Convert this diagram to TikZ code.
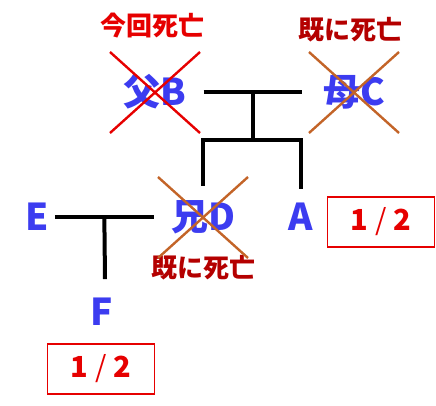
\documentclass[tikz,border=0pt]{standalone}
\usepackage{fontspec}
\newfontfamily\jp{Noto Sans CJK JP}
\usetikzlibrary{calc}

\definecolor{nameblue}{RGB}{60,60,240}
\definecolor{nowred}{RGB}{230,0,0}
\definecolor{pastred}{RGB}{180,0,0}
\definecolor{crossorange}{RGB}{195,100,40}

\begin{document}
\begin{tikzpicture}[x=1pt,y=-1pt,
    person/.style={text=nameblue, font=\jp\bfseries\fontsize{37}{40}\selectfont, inner sep=0pt},
    note/.style={font=\jp\bfseries\fontsize{26}{30}\selectfont, inner sep=0pt},
    share/.style={draw=nowred, line width=1.6pt, text=nowred, minimum width=107pt, minimum height=50pt,
                  font=\jp\bfseries\fontsize{29}{30}\selectfont},
    famline/.style={line width=4pt}]
    \useasboundingbox (0,0) rectangle (436,405);

    % people
    \node[person] (B) at (155,92) {父B};
    \node[person] (C) at (354,92) {母C};
    \node[person] (D) at (203,217) {兄D};
    \node[person] (A) at (301,217) {A};
    \node[person] (E) at (37,217) {E};
    \node[person] (F) at (102,312) {F};

    % notes and shares
    \node[note, text=nowred] (nowB) at (152,26) {今回死亡};
    \node[note, text=pastred] (pastC) at (350,30) {既に死亡};
    \node[note, text=pastred] (pastD) at (203,268) {既に死亡};
    \node[share] (shareA) at (381,222) {1\hspace{0.25em}{\mdseries/}\hspace{0.25em}2};
    \node[share] (shareF) at (101,369) {1\hspace{0.25em}{\mdseries/}\hspace{0.25em}2};

    % family lines
    \coordinate (BCl) at ($(B.east)+(17,0)$);
    \coordinate (BCr) at ($(C.west)+(-21,0)$);
    \draw[famline] (BCl) -- (BCr);
    \coordinate (BCm) at ($(BCl)!0.5!(BCr)$);
    \coordinate (kids) at ($(BCm)+(0,48)$);
    \draw[famline] (BCm) -- (kids);
    \draw[famline] ($(D.north |- kids)+(0,-2)$) |- (kids) -| ($(A.north)+(0,-14)$);
    \draw[famline] (kids -| D.north) -- ($(D.north)+(0,-14)$);

    \coordinate (EDl) at ($(E.east)+(6,0)$);
    \coordinate (EDr) at ($(D.west)+(-17,0)$);
    \draw[famline] (EDl) -- (EDr);
    \draw[famline] ($(EDl)!0.5!(EDr)$) -- ($(F.north)+(3,-19)$);

    % crosses
    \foreach \p/\c in {B/nowred, C/crossorange, D/crossorange} {
        \draw[\c, line width=2.4pt] ($(\p.center)+(-45,-40)$) -- ($(\p.center)+(45,41)$);
        \draw[\c, line width=2.4pt] ($(\p.center)+(45,-40)$) -- ($(\p.center)+(-45,41)$);
    }
\end{tikzpicture}
\end{document}
